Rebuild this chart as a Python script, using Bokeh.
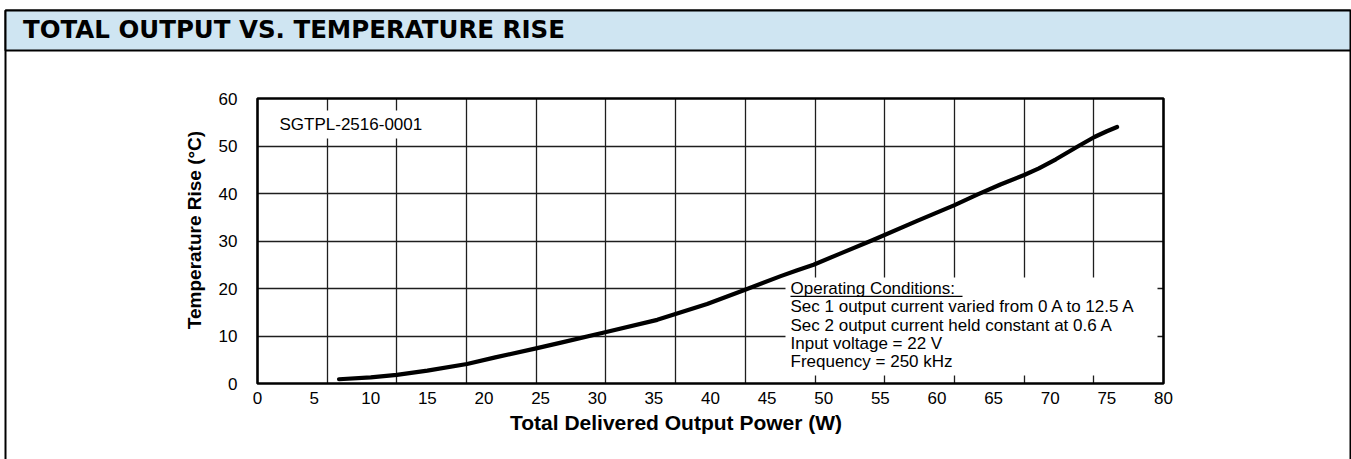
from bokeh.plotting import figure
from bokeh.models import Range1d, FixedTicker, BoxAnnotation, Label, LinearAxis, Grid
from bokeh.embed import file_html
from bokeh.resources import INLINE

# ---- data ----
power_w = [7.2, 10.0, 12.3, 15.0, 18.5, 21.0, 24.6, 26.8, 30.7, 35.3, 39.7, 43.0,
           46.2, 47.6, 49.1, 51.5, 54.4, 58.3, 61.5, 63.6, 65.6, 67.7, 69.0, 70.5,
           72.5, 73.9, 75.0, 75.9]
temp_rise_c = [0.9, 1.3, 1.8, 2.7, 4.1, 5.5, 7.4, 8.6, 10.8, 13.4, 16.75, 19.7,
               22.6, 23.8, 25.0, 27.4, 30.25, 34.3, 37.5, 39.8, 41.9, 43.9, 45.3, 47.2,
               50.0, 51.9, 53.1, 54.0]
x_ticks = [0, 5, 10, 15, 20, 25, 30, 35, 40, 45, 50, 55, 60, 65, 70, 75, 80]
y_ticks = [0, 10, 20, 30, 40, 50, 60]
title_text = "TOTAL OUTPUT VS. TEMPERATURE RISE"
x_label = "Total Delivered Output Power (W)"
y_label = "Temperature Rise (\u00b0C)"
part_number = "SGTPL-2516-0001"
conditions = [
    "Operating Conditions:",
    "Sec 1 output current varied from 0 A to 12.5 A",
    "Sec 2 output current held constant at 0.6 A",
    "Input voltage = 22 V",
    "Frequency = 250 kHz",
]

FONT = "Liberation Sans"
X_MIN, X_MAX, Y_MIN, Y_MAX = 0, 80, 0, 60
GRID_DIVS = 13  # vertical grid of the original scan is independent of labels

# ---- layout: the frame fills the whole canvas; plot area placed inside ----
W, H = 1351, 459
PA_L, PA_R, PA_T, PA_B = 257, 1163, 98, 383      # plot area in pixels
KX = (PA_R - PA_L) / (X_MAX - X_MIN)
KY = (PA_B - PA_T) / (Y_MAX - Y_MIN)


def sx(px):
    return X_MIN + (px - PA_L) / KX


def sy(py):
    return Y_MIN + (PA_B - py) / KY


def box(**kw):
    kw.setdefault("fill_alpha", 1)
    kw.setdefault("line_alpha", 1)
    return BoxAnnotation(**kw)


p = figure(frame_width=W, frame_height=H,
           x_range=Range1d(sx(0), sx(W)), y_range=Range1d(sy(H), sy(0)),
           min_border=0, x_axis_location=None, y_axis_location=None,
           output_backend="svg", toolbar_location=None)
p.center = [r for r in p.center if not isinstance(r, Grid)]
p.background_fill_color = "white"
p.border_fill_color = "white"
p.outline_line_color = None

# outer panel and title bar
p.add_layout(box(left=sx(5), right=sx(1350), top=sy(10), bottom=sy(490),
                 fill_alpha=0, line_color="black", line_width=2))
p.add_layout(box(left=sx(5), right=sx(1350), top=sy(10), bottom=sy(50),
                 fill_color="#cfe5f2", line_color="black", line_width=2))
p.add_layout(Label(x=sx(22.5), y=sy(29.4), text=title_text,
                   text_font="DejaVu Sans", text_font_size="24.5px",
                   text_font_style="bold", text_color="black",
                   text_baseline="middle"))

# grid
xg = Grid(dimension=0, ticker=FixedTicker(
    ticks=[X_MAX * k / GRID_DIVS for k in range(1, GRID_DIVS)]),
    bounds=(X_MIN, X_MAX), cross_bounds=(Y_MIN, Y_MAX))
yg = Grid(dimension=1, ticker=FixedTicker(ticks=y_ticks[1:-1]),
          bounds=(Y_MIN, Y_MAX), cross_bounds=(X_MIN, X_MAX))
for g in (xg, yg):
    g.grid_line_color = "#1e1e1e"
    g.grid_line_width = 1.3
    p.add_layout(g, "center")

# axes drawn at the plot-area edges
xax = LinearAxis(fixed_location=Y_MIN, ticker=FixedTicker(ticks=x_ticks),
                 axis_label=x_label)
yax = LinearAxis(fixed_location=X_MIN, ticker=FixedTicker(ticks=y_ticks),
                 axis_label=y_label)
for ax in (xax, yax):
    ax.axis_line_color = None
    ax.major_tick_line_color = None
    ax.minor_tick_line_color = None
    ax.major_tick_in = 0
    ax.major_tick_out = 0
    ax.major_label_text_font = FONT
    ax.major_label_text_font_size = "17px"
    ax.major_label_text_color = "black"
    ax.axis_label_text_font = FONT
    ax.axis_label_text_font_style = "bold"
    ax.axis_label_text_color = "black"
xax.axis_label_text_font_size = "21px"
yax.axis_label_text_font_size = "19px"
xax.major_label_standoff = 8
yax.major_label_standoff = 20
xax.axis_label_standoff = 4
yax.axis_label_standoff = 11
p.add_layout(xax, "below")
p.add_layout(yax, "left")

# white boxes behind the in-plot texts
p.add_layout(box(left=sx(270), right=sx(430), top=sy(110), bottom=sy(138),
                 fill_color="white", line_color=None))
p.add_layout(box(left=sx(785), right=sx(1157), top=sy(277), bottom=sy(375),
                 fill_color="white", line_color=None))

# the curve
p.line(power_w, temp_rise_c, line_width=4.2, line_color="black",
       line_join="round", line_cap="round")

# plot-area border
p.add_layout(box(left=X_MIN, right=X_MAX, bottom=Y_MIN, top=Y_MAX,
                 fill_alpha=0, line_color="black", line_width=2.6))

p.add_layout(Label(x=sx(279), y=sy(124.2), text=part_number, text_font=FONT,
                   text_font_size="17px", text_color="black",
                   text_baseline="middle"))

cond_mid = [288.1, 306.4, 324.7, 343.1, 361.4]
for txt, my in zip(conditions, cond_mid):
    p.add_layout(Label(x=sx(790), y=sy(my), text=txt, text_font=FONT,
                       text_font_size="17px", text_color="black",
                       text_baseline="middle"))
# underline of the heading
p.add_layout(box(left=sx(790), right=sx(962), top=sy(295.2), bottom=sy(296.4),
                 fill_color="black", line_color=None))

open("out.html", "w").write(file_html(p, INLINE))
